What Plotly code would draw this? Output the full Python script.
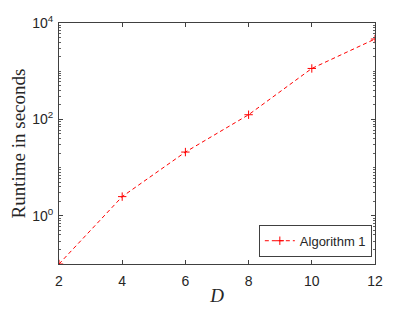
import plotly.graph_objects as go

D = [2, 4, 6, 8, 10, 12]
runtime = [0.1, 2.5, 21, 125, 1140, 4650]
series_name = "Algorithm 1"
ytick_vals = [1, 100, 10000]
ytick_text = ["10<sup>0</sup>", "10<sup>2</sup>", "10<sup>4</sup>"]
xtick_vals = [2, 4, 6, 8, 10, 12]

fig = go.Figure()
fig.add_trace(go.Scatter(
    x=D, y=runtime, name=series_name, mode="lines+markers",
    line=dict(color="#ff0000", width=1, dash="4px,3px"),
    marker=dict(symbol="cross-thin", size=6, line=dict(color="#ff0000", width=1)),
))

axis_common = dict(
    showline=True, linecolor="#404040", linewidth=1, mirror="allticks",
    ticks="inside", ticklen=4, tickcolor="#404040", showgrid=False, zeroline=False,
    automargin=False,
    tickfont=dict(family="Liberation Sans, Arial", size=14, color="#262626"),
)

fig.update_xaxes(range=[2, 12], tickvals=xtick_vals, ticklabelstandoff=4,
                 title=dict(text="<i>D</i>", font=dict(family="Liberation Serif, serif", size=19, color="#262626"), standoff=0),
                 **axis_common)
fig.update_yaxes(type="log", range=[-1, 4], tickvals=ytick_vals, ticktext=ytick_text, ticklabelstandoff=2,
                 minor=dict(ticks="inside", ticklen=2, tickcolor="#606060",
                            tickvals=[v * m for v in [0.1, 1, 10, 100, 1000] for m in range(2, 11)]),
                 title=dict(text="Runtime in seconds", font=dict(family="Liberation Serif, serif", size=19, color="#262626"), standoff=6),
                 **axis_common)

# page body has an 8px default margin; compensate so the plot area sits where the reference has it
fig.update_layout(
    width=415, height=312,
    margin=dict(l=51, r=48, t=15, b=56),
    plot_bgcolor="white", paper_bgcolor="white",
    showlegend=True,
    legend=dict(x=0.99, y=0.03, xanchor="right", yanchor="bottom",
                bgcolor="white", bordercolor="#404040", borderwidth=1,
                font=dict(family="Liberation Sans, Arial", size=13, color="#262626"),
                itemwidth=30, tracegroupgap=0),
)

fig.write_html("out.html")
